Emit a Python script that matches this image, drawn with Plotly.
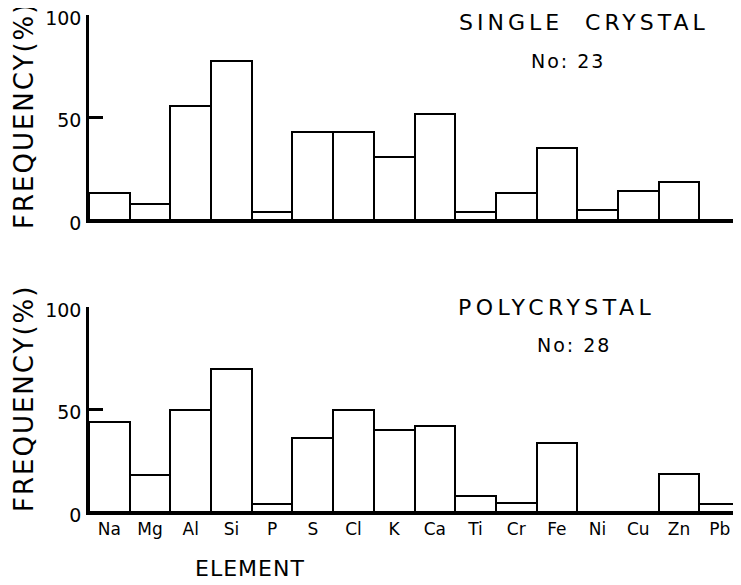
import plotly.graph_objects as go
from plotly.subplots import make_subplots

elements = ["Na", "Mg", "Al", "Si", "P", "S", "Cl", "K", "Ca", "Ti", "Cr", "Fe", "Ni", "Cu", "Zn", "Pb"]
single_crystal = [13, 8, 56, 78, 4, 43, 43, 31, 52, 4, 13, 35, 5, 14, 18.5, 0]
polycrystal = [44, 18, 50, 70, 4, 36, 50, 40, 42, 8, 4.5, 34, 0, 0, 18.5, 4]
y_ticks = [0, 50, 100]

# page has an 8px body margin: figure is drawn 8px right / down of the window origin
OFF = 8
W, H = 741 - OFF, 585 - OFF
L, R = 89 - OFF, 1
FONT = "DejaVu Sans"

fig = make_subplots(rows=2, cols=1)

for i, vals in enumerate([single_crystal, polycrystal], start=1):
    fig.add_trace(go.Bar(x=elements, y=vals, width=1,
                         marker=dict(color="white", line=dict(color="black", width=2)),
                         showlegend=False, cliponaxis=False), row=i, col=1)

def py(px):  # screen y pixel -> paper fraction
    return 1 - (px - OFF) / H

def px_(x):  # screen x pixel -> paper fraction
    return (x - OFF - L) / (W - L - R)

top_dom = [py(220), py(15)]
bot_dom = [py(512), py(307)]

common_y = dict(range=[0, 100.3], tickvals=y_ticks, ticks="inside", ticklen=14, tickwidth=2.5,
                tickcolor="black", showline=True, linecolor="black", linewidth=2.5,
                showgrid=False, zeroline=False, ticklabelstandoff=1, ticklabeloverflow="allow",
                ticklabelshift=3,
                tickfont=dict(family=FONT, size=19, color="black"))
common_x = dict(range=[-0.5, 15.5], showline=True, linecolor="black", linewidth=2.5,
                showgrid=False, zeroline=False, ticks="", ticklabeloverflow="allow")

fig.update_layout(
    width=W, height=H, plot_bgcolor="white", paper_bgcolor="white",
    margin=dict(l=L, r=R, t=0, b=0, autoexpand=False), bargap=0,
    xaxis=dict(common_x, domain=[0, 1], showticklabels=False),
    xaxis2=dict(common_x, domain=[0, 1], showticklabels=True,
                tickfont=dict(family=FONT, size=17, color="black")),
    yaxis=dict(common_y, domain=top_dom),
    yaxis2=dict(common_y, domain=bot_dom),
)

def ann(text, x, y, size, spacing=0, angle=0, yanchor="middle"):
    if spacing:
        text = '<span style="letter-spacing:%spx">%s</span>' % (spacing, text)
    fig.add_annotation(text=text, x=px_(x), y=py(y), xref="paper", yref="paper",
                       showarrow=False, textangle=angle, xanchor="center", yanchor=yanchor,
                       font=dict(family=FONT, size=size, color="black"))

ann("SINGLE  CRYSTAL", 584, 8, 22, 4, yanchor="top")
ann("No: 23", 568, 61, 19, 2)
ann("POLYCRYSTAL", 556, 307, 22, 4.5)
ann("No: 28", 574, 345, 19, 2)
ann("FREQUENCY(%)", 24, 116, 26, 2, -90)
ann("FREQUENCY(%)", 24, 399, 26, 2, -90)
ann("ELEMENT", 250, 568, 22, 1)

fig.write_html("out.html")
